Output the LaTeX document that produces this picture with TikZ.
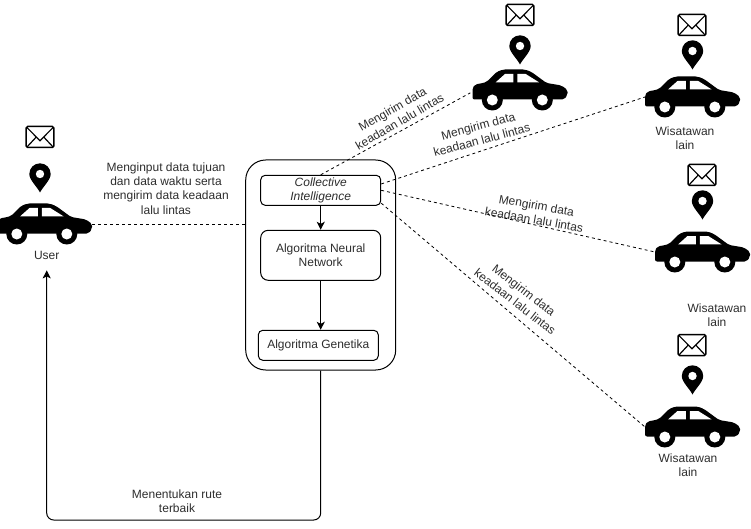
\documentclass[tikz,border=0pt]{standalone}
\usepackage{fontspec}
\setmainfont{Liberation Sans}
\usepackage{xcolor}
\definecolor{grisOscuro}{RGB}{45, 45, 45}
\usepackage{tikz}
\usetikzlibrary{arrows,arrows.meta,calc,positioning}
\tikzstyle{edge}  =[>={Stealth[length=8pt,width=8pt,inset=2pt]}, line width=1pt]
\tikzstyle{dashedge}=[dash pattern=on 3pt off 3pt, line width=0.8pt]
\tikzstyle{txt}=[font=\fontsize{12}{14.4}\selectfont, text=grisOscuro,
                 align=center, inner sep=0pt]
\tikzstyle{carbox}=[rectangle, minimum width=95pt, minimum height=41pt,
                    inner sep=0pt, outer sep=0pt]
\tikzstyle{bloque}=[rectangle, draw, rounded corners=4.5pt, minimum width=120pt,
                    minimum height=30pt, line width=1pt, inner sep=0pt,
                    font=\fontsize{12}{14.4}\selectfont, text=grisOscuro, align=center]
\tikzset{
    carIcon/.pic={
        \fill[black, rounded corners=2pt] (-47.5,-9.5) -- (-47.5,2) -- (-45,5.5) -- (-37,7) -- (-33.5,8)
            -- (-23.5,18) -- (-17,20.5) -- (5,20.5) -- (11.5,18) -- (26.5,7) -- (41.5,4.5)
            -- (47.5,0) -- (47.5,-5) -- (44,-9.5) -- cycle;
        \fill[white] (-24.3,7.7) -- (-6.7,7.7) -- (-6.7,16) -- (-15,16) -- cycle;
        \fill[white] (-2.7,7.7) -- (-2.7,16) -- (5.7,16) -- (19,7.7) -- cycle;
        \foreach \w in {-27.7,22.3} {
            \fill[black] (\w,-10) circle (10.5);
            \fill[white] (\w,-10) circle (5.5);
        }
    },
    mailIcon/.pic={
        \draw[line width=1.5pt, rounded corners=1.5pt] (-13.8,-10.5) rectangle (13.8,10.5);
        \draw[line width=1.2pt] (-13.3,9.7) -- (0,-3.7) -- (13.3,9.7);
        \draw[line width=1.2pt] (-13.3,-10.3) -- (-4,-0.3);
        \draw[line width=1.2pt] (13.3,-10.3) -- (4,-0.3);
    },
    pinIcon/.pic={
        \fill[black] (0,-14.5) .. controls (-3,-8.5) and (-10.7,-2) .. (-10.7,4)
            arc (180:0:10.7) .. controls (10.7,-2) and (3,-8.5) .. (0,-14.5) -- cycle;
        \fill[white] (0,4) circle (4.2);
    }
}

\begin{document}
\begin{tikzpicture}[x=1pt,y=1pt]
    \useasboundingbox (0,-529) rectangle (751,0);

    % coches
    \draw (44.5,-224) node (carU) [carbox] {} pic {carIcon};
    \draw (520,-90) node (carA) [carbox] {} pic {carIcon};
    \draw (692.5,-97) node (carB) [carbox] {} pic {carIcon};
    \draw (702.5,-252) node (carC) [carbox] {} pic {carIcon};
    \draw (692.5,-427) node (carD) [carbox] {} pic {carIcon};

    \foreach \x/\y in {40/-137,520/-15,692/-25,702/-175,692/-345}
        \draw (\x,\y) pic {mailIcon};
    \foreach \x/\y in {40/-178,520/-50,692.5/-55,702.5/-205,692.5/-380}
        \draw (\x,\y) pic {pinIcon};

    % sistema
    \draw (320.7,-265) node (sistema) [rectangle, draw, rounded corners=20pt, minimum width=150pt,
        minimum height=210pt, line width=1pt] {};
    \draw (320.7,-190.3) node (CI) [bloque] {\itshape Collective\\\itshape Intelligence};
    \draw (320.7,-255.3) node (NN) [bloque, rounded corners=7.5pt, minimum height=50pt] {Algoritma Neural\\Network};
    \draw (318.3,-345.3) node (GA) [bloque] {Algoritma Genetika};

    \draw [edge,->] (CI) to (NN);
    \draw [edge,->] (NN.south) to (NN.south |- GA.north);

    % etiquetas
    \draw (46.7,-255.5) node (labelU) [txt] {User};
    \draw (166,-188.5) node (labelIn) [txt] {Menginput data tujuan\\dan data waktu serta\\mengirim data keadaan\\lalu lintas};
    \draw (685,-138.5) node (labelB) [txt] {Wisatawan\\lain};
    \draw (717,-315.5) node (labelC) [txt] {Wisatawan\\lain};
    \draw (688,-465.5) node (labelD) [txt] {Wisatawan\\lain};
    \draw (177,-501) node (labelRute) [txt] {Menentukan rute\\terbaik};
    \draw (396,-115.5) node (sendA) [txt, rotate=30] {Mengirim data\\keadaan lalu lintas};
    \draw (480,-133) node (sendB) [txt, rotate=15] {Mengirim data\\keadaan lalu lintas};
    \draw (535.3,-212.5) node (sendC) [txt, rotate=-10] {Mengirim data\\keadaan lalu lintas};
    \draw (519.5,-296) node (sendD) [txt, rotate=-38] {Mengirim data\\keadaan lalu lintas};

    % conexiones
    \draw [dashedge] (carU.east) to (carU.east -| sistema.west);
    \draw [dashedge, shorten >=2.5pt] (CI.north) to (carA.182);
    \foreach \i/\j in {CI.6.6/carB.west, CI.east/carC.west, CI.-12.5/carD.west}
        \draw [dashedge] (\i) to (\j);

    \coordinate (rutaBase) at (46.7,-520);
    \draw [edge,->,rounded corners=7pt,shorten >=10.5pt] (sistema.south) |- (rutaBase) -- (labelU.south);

\end{tikzpicture}
\end{document}
